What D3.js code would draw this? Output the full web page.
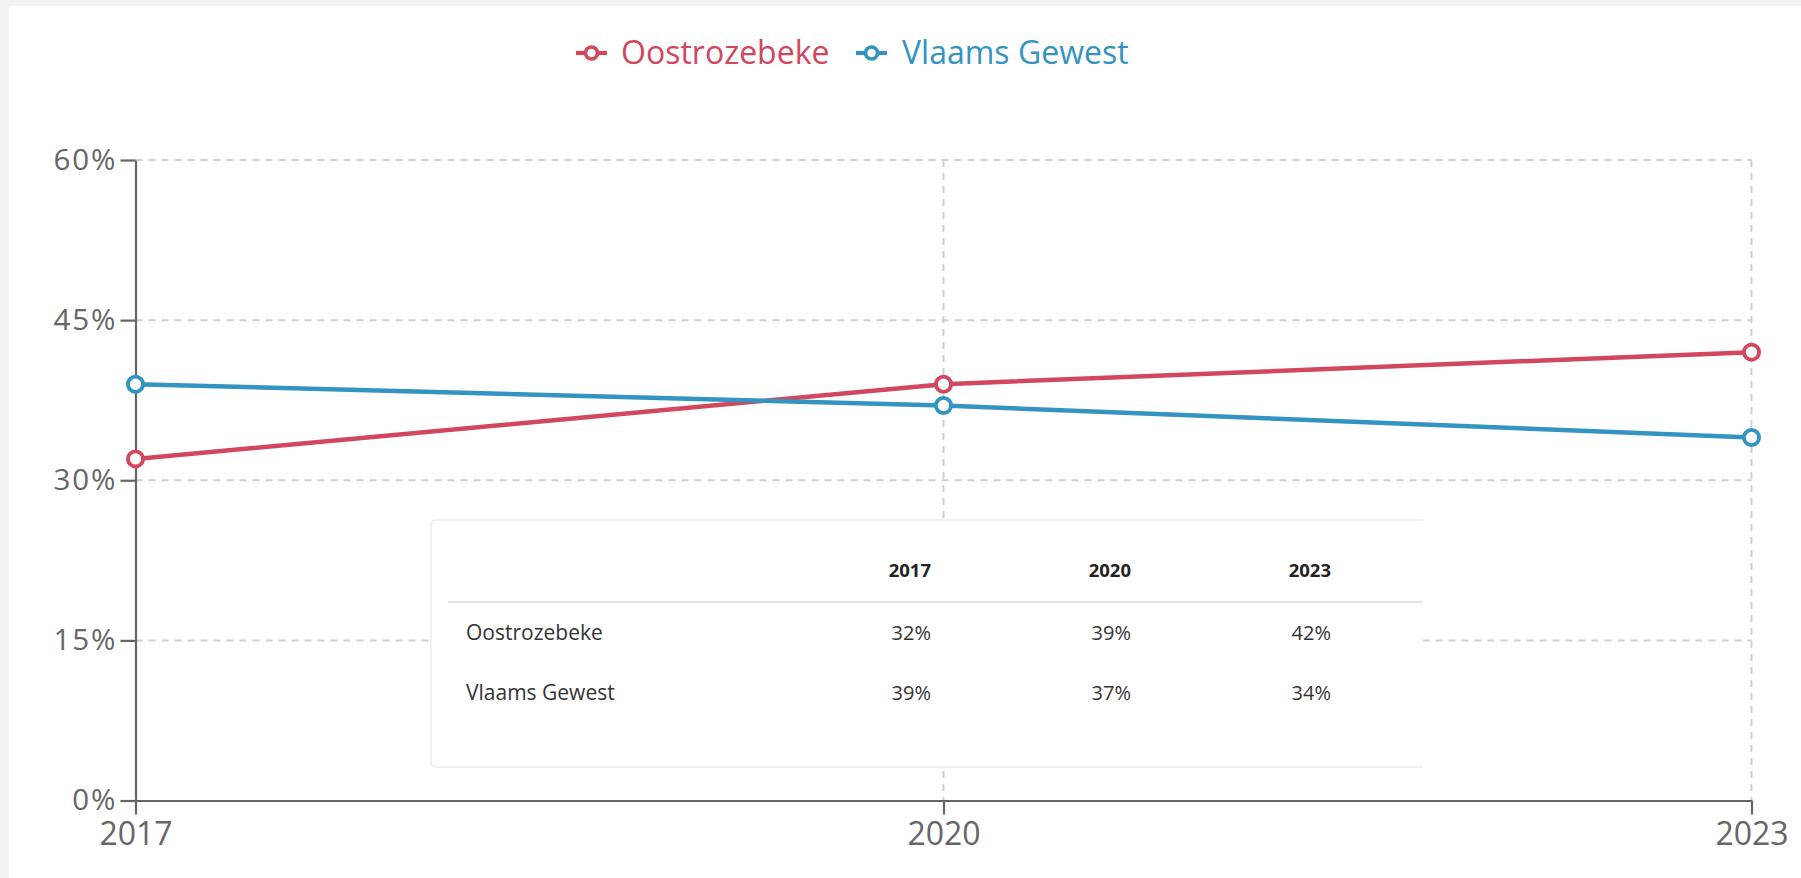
<!DOCTYPE html>
<html>
<head>
<meta charset="utf-8">
<script src="https://cdn.jsdelivr.net/npm/d3@7"></script>
<style>
  html, body { margin: 0; padding: 0; background: #f2f2f2; }
  #panel { position: absolute; left: 9px; top: 6px; width: 1792px; height: 872px; background: #fff; }
  svg { position: absolute; left: 0; top: 0; }
  text { font-family: "Open Sans", "Noto Sans", sans-serif; }
</style>
</head>
<body>
<div id="panel"></div>
<svg id="chart" width="1801" height="878"></svg>
<script>
// Share of residents, Oostrozebeke vs. the Flemish Region
const years = [2017, 2020, 2023];
const oostrozebeke = [32, 39, 42];
const vlaamsGewest = [39, 37, 34];
const yTicks = [0, 15, 30, 45, 60];
const seriesNames = ["Oostrozebeke", "Vlaams Gewest"];
const seriesColors = ["#d2465e", "#3393c1"];

const series = [
  { name: seriesNames[0], color: seriesColors[0], values: oostrozebeke },
  { name: seriesNames[1], color: seriesColors[1], values: vlaamsGewest }
];

const svg = d3.select("#chart");
const x = d3.scaleLinear().domain([2017, 2023]).range([135.5, 1751.5]);
const y = d3.scaleLinear().domain([0, 60]).range([800.5, 160]);
const pct = d => d + "%";

// gridlines
const grid = svg.append("g").attr("stroke", "#cfcfcf").attr("stroke-width", 2).attr("stroke-dasharray", "7,6");
grid.selectAll("line.h").data(yTicks.filter(d => d > 0)).join("line")
  .attr("x1", x(2017)).attr("x2", x(2023)).attr("y1", d => y(d)).attr("y2", d => y(d));
grid.selectAll("line.v").data(years.slice(1)).join("line")
  .attr("x1", d => x(d)).attr("x2", d => x(d)).attr("y1", y(60)).attr("y2", y(0));

// axes
const yAxis = svg.append("g").attr("transform", `translate(${x(2017)},0)`)
  .call(d3.axisLeft(y).tickValues(yTicks).tickFormat(pct).tickSize(15).tickSizeOuter(0).tickPadding(3));
const xAxis = svg.append("g").attr("transform", `translate(0,${y(0)})`)
  .call(d3.axisBottom(x).tickValues(years).tickFormat(d3.format("d")).tickSize(14).tickSizeOuter(0).tickPadding(8));
[yAxis, xAxis].forEach(a => {
  a.selectAll("path, line").attr("stroke", "#666").attr("stroke-width", 2.2);
  a.selectAll("text").attr("fill", "#666").attr("font-family", "'Open Sans', sans-serif");
});
yAxis.selectAll("text").attr("font-size", 29.5).attr("letter-spacing", "2px");
xAxis.selectAll("text").attr("font-size", 32);

// series lines and markers
const line = d3.line().x((d, i) => x(years[i])).y(d => y(d));
series.forEach(s => {
  svg.append("path").datum(s.values).attr("d", line)
    .attr("fill", "none").attr("stroke", s.color).attr("stroke-width", 4.5);
  svg.selectAll(null).data(s.values).join("circle")
    .attr("cx", (d, i) => x(years[i])).attr("cy", d => y(d)).attr("r", 7.6)
    .attr("fill", "#fff").attr("stroke", s.color).attr("stroke-width", 3.8);
});

// legend
const legendPos = [{ sx: 576, tx: 621 }, { sx: 856, tx: 902 }];
const legend = svg.append("g").selectAll("g").data(series).join("g");
legend.append("line")
  .attr("x1", (d, i) => legendPos[i].sx).attr("x2", (d, i) => legendPos[i].sx + 31)
  .attr("y1", 53).attr("y2", 53).attr("stroke", d => d.color).attr("stroke-width", 4.2);
legend.append("circle")
  .attr("cx", (d, i) => legendPos[i].sx + 15.5).attr("cy", 53).attr("r", 6)
  .attr("fill", "#fff").attr("stroke", d => d.color).attr("stroke-width", 3.6);
legend.append("text")
  .attr("x", (d, i) => legendPos[i].tx).attr("y", 53).attr("dy", "0.35em")
  .attr("font-size", 32).attr("fill", d => d.color).text(d => d.name);

// data table panel
const box = { left: 431, top: 520, right: 1423, bottom: 767 };
const table = svg.append("g");
table.append("rect").attr("x", box.left).attr("y", box.top)
  .attr("width", box.right - box.left).attr("height", box.bottom - box.top).attr("fill", "#fff");
table.append("path")
  .attr("d", `M${box.right},${box.top}H${box.left + 5}Q${box.left},${box.top} ${box.left},${box.top + 5}V${box.bottom - 5}Q${box.left},${box.bottom} ${box.left + 5},${box.bottom}H${box.right}`)
  .attr("fill", "none").attr("stroke", "#ececec").attr("stroke-width", 1.5);
const colRight = [931, 1131, 1331];
table.selectAll("text.head").data(years).join("text")
  .attr("x", (d, i) => colRight[i]).attr("y", 577).attr("text-anchor", "end")
  .attr("font-size", 18.5).attr("font-weight", 700).attr("fill", "#222").text(d => d);
table.append("line").attr("x1", 448).attr("x2", box.right).attr("y1", 602).attr("y2", 602)
  .attr("stroke", "#dcdcdc").attr("stroke-width", 1.5);
const rowY = [640, 700];
series.forEach((s, r) => {
  table.append("text").attr("x", 466).attr("y", rowY[r]).attr("font-size", 21).attr("fill", "#333").text(s.name);
  table.selectAll(null).data(s.values).join("text")
    .attr("x", (d, i) => colRight[i]).attr("y", rowY[r]).attr("text-anchor", "end")
    .attr("font-size", 20).attr("fill", "#333").text(pct);
});
</script>
</body>
</html>
